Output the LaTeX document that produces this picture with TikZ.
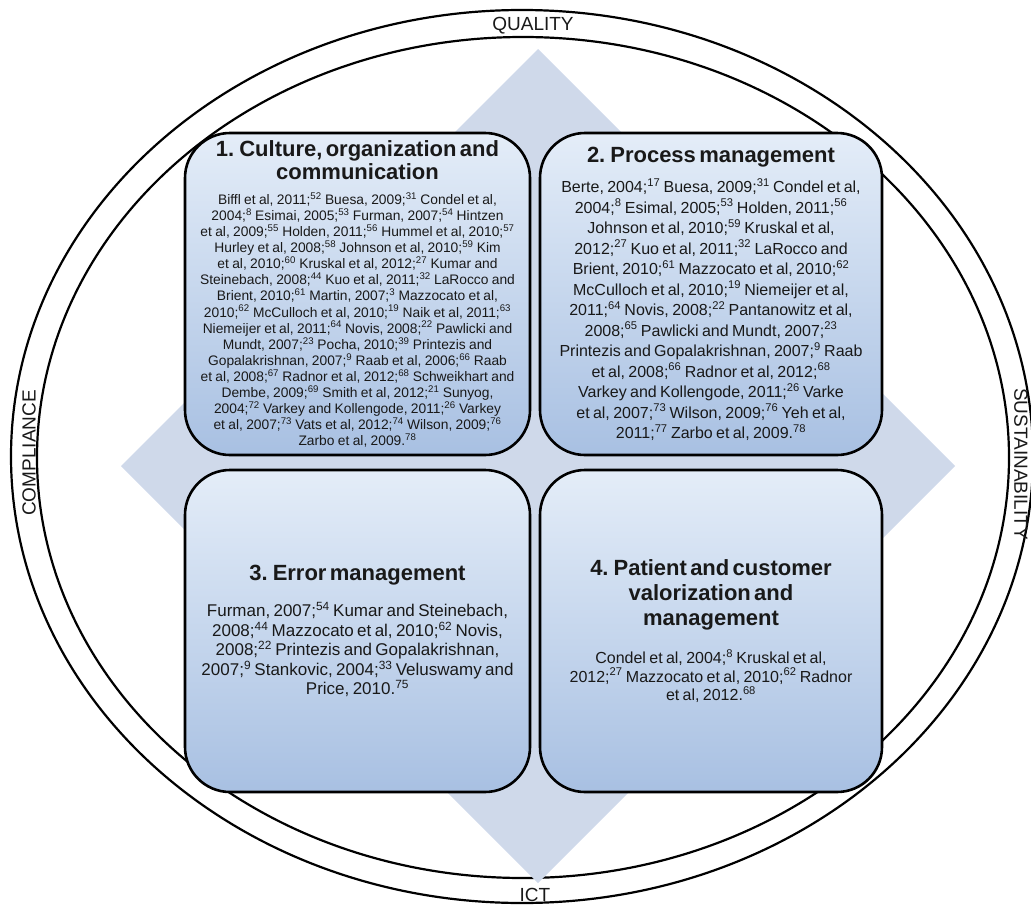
\documentclass[tikz,border=0pt]{standalone}
\usepackage{fontspec}
\setmainfont{Liberation Sans}
\usetikzlibrary{positioning}
\setlength{\parindent}{0pt}
\definecolor{paneltop}{HTML}{E4EDF8}
\definecolor{panelbottom}{HTML}{A8C0E2}
\definecolor{diamondfill}{HTML}{CFD9EA}
\newcommand\refno[1]{\textsuperscript{#1}}

\begin{document}
\begin{tikzpicture}[
    x=1pt, y=-1pt,
    every node/.style={align=center, text=black!90},
    ring/.style={draw=black, line width=2.2pt},
    ringlabel/.style={font=\fontsize{19}{22}\selectfont, inner sep=0pt},
    backdiamond/.style={fill=diamondfill},
    panel/.style={draw=black, line width=2.6pt, rounded corners=45pt,
                  outer sep=0pt, inner sep=4pt, text width=325pt,
                  minimum height=322pt,
                  top color=paneltop, bottom color=panelbottom},
    leftpanel/.style={panel, minimum width=345pt},
    rightpanel/.style={panel, minimum width=342pt}
  ]

  \useasboundingbox (0,0) rectangle (1031,905);

  \draw[ring] (522,456.5) ellipse [x radius=511, y radius=446.5];
  \draw[ring] (523,457.5) ellipse [x radius=486, y radius=420.5];

  \fill[backdiamond] (538,49) -- (955,466) -- (538,883) -- (121,466) -- cycle;

  \node[ringlabel] (quality) at (533,26) {QUALITY};
  \node[ringlabel, rotate=90] (compliance) at (29,453) {COMPLIANCE};
  \node[ringlabel, rotate=-90] (sustainability) at (1021,464) {SUSTAINABILITY};
  \node[ringlabel] (ict) at (535,895) {ICT};

  \node[leftpanel] (culture) at (357.5,294) {%
    {\fontsize{22}{23}\selectfont\bfseries 1. Culture, organization and\\communication\par}
    \vspace{9pt}
    {\fontsize{13.8}{16.1}\selectfont
    Biffl et al, 2011;\refno{52} Buesa, 2009;\refno{31} Condel et al,\\
    2004;\refno{8} Esimai, 2005;\refno{53} Furman, 2007;\refno{54} Hintzen\\
    et al, 2009;\refno{55} Holden, 2011;\refno{56} Hummel et al, 2010;\refno{57}\\
    Hurley et al, 2008;\refno{58} Johnson et al, 2010;\refno{59} Kim\\
    et al, 2010;\refno{60} Kruskal et al, 2012;\refno{27} Kumar and\\
    Steinebach, 2008;\refno{44} Kuo et al, 2011;\refno{32} LaRocco and\\
    Brient, 2010;\refno{61} Martin, 2007;\refno{3} Mazzocato et al,\\
    2010;\refno{62} McCulloch et al, 2010;\refno{19} Naik et al, 2011;\refno{63}\\
    Niemeijer et al, 2011;\refno{64} Novis, 2008;\refno{22} Pawlicki and\\
    Mundt, 2007;\refno{23} Pocha, 2010;\refno{39} Printezis and\\
    Gopalakrishnan, 2007;\refno{9} Raab et al, 2006;\refno{66} Raab\\
    et al, 2008;\refno{67} Radnor et al, 2012;\refno{68} Schweikhart and\\
    Dembe, 2009;\refno{69} Smith et al, 2012;\refno{21} Sunyog,\\
    2004;\refno{72} Varkey and Kollengode, 2011;\refno{26} Varkey\\
    et al, 2007;\refno{73} Vats et al, 2012;\refno{74} Wilson, 2009;\refno{76}\\
    Zarbo et al, 2009.\refno{78}\par}};

  \node[rightpanel, right=10pt of culture] (process) {%
    {\fontsize{22}{23}\selectfont\bfseries 2. Process management\par}
    \vspace{9.5pt}
    {\fontsize{16}{20.5}\selectfont
    Berte, 2004;\refno{17} Buesa, 2009;\refno{31} Condel et al,\\
    2004;\refno{8} Esimal, 2005;\refno{53} Holden, 2011;\refno{56}\\
    Johnson et al, 2010;\refno{59} Kruskal et al,\\
    2012;\refno{27} Kuo et al, 2011;\refno{32} LaRocco and\\
    Brient, 2010;\refno{61} Mazzocato et al, 2010;\refno{62}\\
    McCulloch et al, 2010;\refno{19} Niemeijer et al,\\
    2011;\refno{64} Novis, 2008;\refno{22} Pantanowitz et al,\\
    2008;\refno{65} Pawlicki and Mundt, 2007;\refno{23}\\
    Printezis and Gopalakrishnan, 2007;\refno{9} Raab\\
    et al, 2008;\refno{66} Radnor et al, 2012;\refno{68}\\
    Varkey and Kollengode, 2011;\refno{26} Varke\\
    et al, 2007;\refno{73} Wilson, 2009;\refno{76} Yeh et al,\\
    2011;\refno{77} Zarbo et al, 2009.\refno{78}\par}};

  \node[leftpanel, below=15pt of culture] (error) {%
    {\fontsize{22}{25}\selectfont\bfseries 3. Error management\par}
    \vspace{17pt}
    {\fontsize{17}{19.5}\selectfont
    Furman, 2007;\refno{54} Kumar and Steinebach,\\
    2008;\refno{44} Mazzocato et al, 2010;\refno{62} Novis,\\
    2008;\refno{22} Printezis and Gopalakrishnan,\\
    2007;\refno{9} Stankovic, 2004;\refno{33} Veluswamy and\\
    Price, 2010.\refno{75}\par}};

  \node[rightpanel, below=15pt of process] (patient) {%
    {\fontsize{22}{25}\selectfont\bfseries 4. Patient and customer\\valorization and\\management\par}
    \vspace{18.5pt}
    {\fontsize{16}{18.5}\selectfont
    Condel et al, 2004;\refno{8} Kruskal et al,\\
    2012;\refno{27} Mazzocato et al, 2010;\refno{62} Radnor\\
    et al, 2012.\refno{68}\par}};

\end{tikzpicture}
\end{document}
